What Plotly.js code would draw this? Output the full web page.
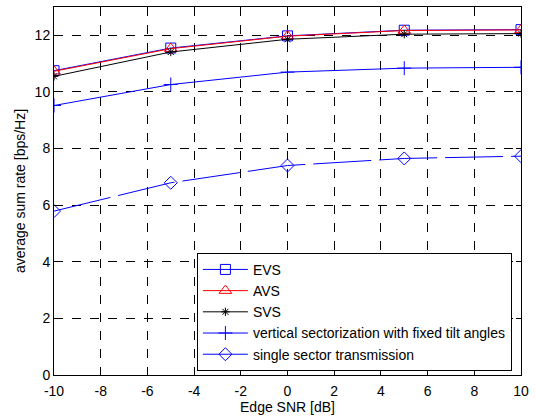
<!DOCTYPE html>
<html><head><meta charset="utf-8">
<script src="https://cdn.plot.ly/plotly-3.0.1.min.js"></script>
<style>html,body{margin:0;padding:0;background:#fff}</style>
</head><body><div id="chart" style="width:536px;height:416px"></div>
<script>
const snr = [-10, -5, 0, 5, 10];
const evs = [10.75, 11.55, 11.98, 12.18, 12.2];
const avs = [10.73, 11.53, 11.97, 12.17, 12.19];
const svs = [10.55, 11.41, 11.86, 12.04, 12.06];
const fixedTilt = [9.52, 10.26, 10.7, 10.84, 10.87];
const singleSector = [5.79, 6.79, 7.4, 7.65, 7.73];
const names = ['EVS', 'AVS', 'SVS', 'vertical sectorization with fixed tilt angles', 'single sector transmission'];
const xTicks = [-10, -8, -6, -4, -2, 0, 2, 4, 6, 8, 10];
const xTickLabels = ['-10', '-8', '-6', '-4', '-2', '0', '2', '4', '6', '8', '10'];
const yTicks = [0, 2, 4, 6, 8, 10, 12];
const yTickLabels = ['0', '2', '4', '6', '8', '10', '12'];

const series = [evs, avs, svs, fixedTilt, singleSector];
const colors = ['#0000ff', '#ff0000', '#000000', '#0000ff', '#0000ff'];
const symbols = ['square-open', 'triangle-up-open', 'asterisk-open', 'cross-thin-open', 'diamond-open'];
const sizes = [10, 11, 7, 10, 10];
const dashes = ['solid', 'solid', 'solid', 'solid', '58px,8px'];

const traces = series.map((s, i) => ({
  x: snr, y: s, name: names[i], type: 'scatter', mode: 'lines+markers',
  line: {color: colors[i], width: 1, dash: dashes[i]},
  marker: {symbol: symbols[i], size: sizes[i], color: colors[i], line: {color: colors[i], width: 1}}
}));

const FONT = 'Liberation Sans, Arial, Helvetica';
const axisCommon = {
  showline: true, mirror: 'ticks', linecolor: '#000', linewidth: 1,
  ticks: 'inside', ticklen: 5, tickcolor: '#000',
  showgrid: true, gridcolor: '#000', gridwidth: 1, griddash: 'dash',
  zeroline: false, tickfont: {family: FONT, size: 14, color: '#000'}
};

const layout = {
  width: 536, height: 416,
  margin: {l: 54, r: 15, t: 7, b: 41},
  paper_bgcolor: '#fff', plot_bgcolor: '#fff',
  font: {family: FONT, size: 14, color: '#000'},
  xaxis: Object.assign({}, axisCommon, {range: [-10, 10], tickvals: xTicks, ticktext: xTickLabels,
    ticklabelstandoff: 3,
    title: {text: 'Edge SNR [dB]', font: {family: FONT, size: 14}, standoff: 1}}),
  yaxis: Object.assign({}, axisCommon, {range: [0, 13], tickvals: yTicks, ticktext: yTickLabels,
    title: {text: 'average sum rate [bps/Hz]', font: {family: FONT, size: 14}, standoff: 5}}),
  showlegend: true,
  legend: {x: 0.306, y: 0.332, xanchor: 'left', yanchor: 'top',
    bgcolor: '#fff', bordercolor: '#000', borderwidth: 1,
    font: {family: FONT, size: 14, color: '#000'},
    tracegroupgap: 0, itemwidth: 45}
};

Plotly.newPlot('chart', traces, layout, {displayModeBar: false, staticPlot: true});
</script></body></html>
